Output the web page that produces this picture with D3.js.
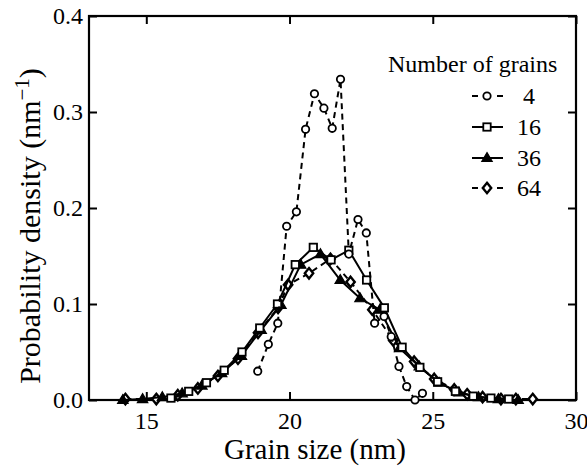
<!DOCTYPE html>
<html><head><meta charset="utf-8">
<script src="https://cdn.jsdelivr.net/npm/d3@7"></script>
<style>
body{margin:0;background:#fff;}
svg text{font-family:'Liberation Serif','Times New Roman',Times,serif !important;fill:#000;}
</style></head>
<body><svg id="c" width="587" height="469"></svg>
<script>
// ---- data ----
const xTicks = [15, 20, 25, 30];
const yTicks = [0.0, 0.1, 0.2, 0.3, 0.4];
const seriesNames = ["4", "16", "36", "64"];

const g4x = [18.89,19.26,19.59,19.9,20.24,20.56,20.87,21.2,21.49,21.78,22.07,22.39,22.68,22.97,23.3,23.55,23.82,24.09,24.38,24.64];
const g4y = [0.030,0.058,0.080,0.181,0.196,0.282,0.319,0.304,0.283,0.334,0.152,0.188,0.174,0.080,0.087,0.066,0.035,0.014,0.000,0.007];

const g16x = [15.86,16.48,17.1,17.72,18.34,18.96,19.58,20.2,20.83,21.45,22.07,22.69,23.31,23.93,24.55,25.17,25.79,26.41,27.03,27.65];
const g16y = [0.002,0.009,0.018,0.031,0.050,0.075,0.100,0.141,0.159,0.146,0.156,0.125,0.096,0.055,0.034,0.019,0.009,0.004,0.002,0.001];

const g36x = [14.18,14.87,15.56,16.25,16.94,17.63,18.32,19.01,19.7,20.39,21.08,21.77,22.46,23.15,23.84,24.53,25.22,25.91,26.6,27.29,27.98];
const g36y = [0.000,0.001,0.003,0.007,0.015,0.028,0.046,0.073,0.099,0.141,0.152,0.125,0.106,0.094,0.054,0.035,0.018,0.008,0.003,0.001,0.000];

const g64x = [14.27,15.35,16.1,16.8,17.5,18.2,18.9,19.6,19.95,20.68,21.43,22.13,22.89,23.62,24.35,25.05,25.75,26.2,26.74,27.38,27.9,28.49];
const g64y = [0.001,0.001,0.005,0.012,0.025,0.043,0.070,0.096,0.120,0.132,0.147,0.123,0.094,0.062,0.040,0.022,0.011,0.006,0.003,0.001,0.001,0.001];

const seriesX = [g4x, g16x, g36x, g64x];
const seriesY = [g4y, g16y, g36y, g64y];
const markers = ["circle", "square", "triangle", "diamond"];
const dashed = [true, false, false, true];

// ---- layout ----
const FONT = "'Liberation Serif','Times New Roman',Times,serif";
const svg = d3.select("#c");
const L = 89, R = 576, T = 16, B = 400;
const x = d3.scaleLinear().domain([13, 30]).range([L, R]);
const y = d3.scaleLinear().domain([0, 0.4]).range([B, T]);

const tickLen = 8;
const gx = svg.append("g").attr("transform", `translate(0,${B})`)
  .call(d3.axisBottom(x).tickValues(xTicks).tickSizeInner(-tickLen).tickSizeOuter(0).tickPadding(12).tickFormat(d3.format("d")));
const gxt = svg.append("g").attr("transform", `translate(0,${T})`)
  .call(d3.axisTop(x).tickValues(xTicks).tickSizeInner(-tickLen).tickSizeOuter(0).tickFormat(""));
const gy = svg.append("g").attr("transform", `translate(${L},0)`)
  .call(d3.axisLeft(y).tickValues(yTicks).tickSizeInner(-tickLen).tickSizeOuter(0).tickPadding(6).tickFormat(d3.format(".1f")));
const gyr = svg.append("g").attr("transform", `translate(${R},0)`)
  .call(d3.axisRight(y).tickValues(yTicks).tickSizeInner(-tickLen).tickSizeOuter(0).tickFormat(""));
[gx, gxt, gy, gyr].forEach(g => {
  g.attr("font-family", FONT);
  g.select(".domain").remove();
  g.selectAll(".tick line").attr("stroke", "#000").attr("stroke-width", 2);
  g.selectAll("text").attr("font-size", 24).style("font-family", FONT);
});
svg.append("rect").attr("x", L).attr("y", T).attr("width", R - L).attr("height", B - T)
  .attr("fill", "none").attr("stroke", "#000").attr("stroke-width", 2.2);

// axis labels
svg.append("text").attr("x", 315).attr("y", 459).attr("text-anchor", "middle")
  .style("font-family", FONT).attr("font-size", 29).text("Grain size (nm)");
const yl = svg.append("text").attr("text-anchor", "start").style("font-family", FONT).attr("font-size", 30);
yl.append("tspan").text("Probability density (nm");
yl.append("tspan").attr("dy", -11).attr("font-size", 21).text("−1");
yl.append("tspan").attr("dy", 11).text(")");
const len = yl.node().getComputedTextLength();
yl.attr("transform", `translate(40,${226 + len / 2}) rotate(-90)`);

function drawMarker(g, type, cx, cy) {
  if (type === "circle") {
    g.append("circle").attr("cx", cx).attr("cy", cy).attr("r", 3.7)
      .attr("fill", "#fff").attr("stroke", "#000").attr("stroke-width", 1.8);
  } else if (type === "square") {
    g.append("rect").attr("x", cx - 3.7).attr("y", cy - 3.7).attr("width", 7.4).attr("height", 7.4)
      .attr("fill", "#fff").attr("stroke", "#000").attr("stroke-width", 1.8);
  } else if (type === "triangle") {
    g.append("path").attr("d", `M${cx},${cy - 5.4}L${cx + 5.2},${cy + 3.5}L${cx - 5.2},${cy + 3.5}Z`)
      .attr("fill", "#000").attr("stroke", "#000").attr("stroke-width", 1.2);
  } else {
    g.append("path").attr("d", `M${cx},${cy - 5.2}L${cx + 4.2},${cy}L${cx},${cy + 5.2}L${cx - 4.2},${cy}Z`)
      .attr("fill", "#fff").attr("stroke", "#000").attr("stroke-width", 2.4);
  }
}

const line = d3.line().x(d => x(d[0])).y(d => y(d[1]));
[3, 2, 1, 0].forEach(i => {
  const pts = seriesX[i].map((v, k) => [v, seriesY[i][k]]);
  const g = svg.append("g");
  g.append("path").attr("d", line(pts)).attr("fill", "none").attr("stroke", "#000")
    .attr("stroke-width", 2).attr("stroke-dasharray", dashed[i] ? "6,4.5" : null);
  pts.forEach(p => drawMarker(g, markers[i], x(p[0]), y(p[1])));
});

// legend
svg.append("text").attr("x", 388).attr("y", 72).style("font-family", FONT).attr("font-size", 24).text("Number of grains");
const legY = [96, 127, 158, 188];
seriesNames.forEach((n, i) => {
  const g = svg.append("g");
  const yy = legY[i];
  if (dashed[i]) {
    g.append("line").attr("x1", 472).attr("x2", 478).attr("y1", yy).attr("y2", yy).attr("stroke", "#000").attr("stroke-width", 2);
    g.append("line").attr("x1", 497).attr("x2", 503).attr("y1", yy).attr("y2", yy).attr("stroke", "#000").attr("stroke-width", 2);
  } else {
    g.append("line").attr("x1", 472).attr("x2", 503).attr("y1", yy).attr("y2", yy).attr("stroke", "#000").attr("stroke-width", 2);
  }
  drawMarker(g, markers[i], 487, yy);
  g.append("text").attr("x", n.length === 1 ? 523 : 517).attr("y", yy + 8).style("font-family", FONT).attr("font-size", 24).text(n);
});
</script></body></html>
